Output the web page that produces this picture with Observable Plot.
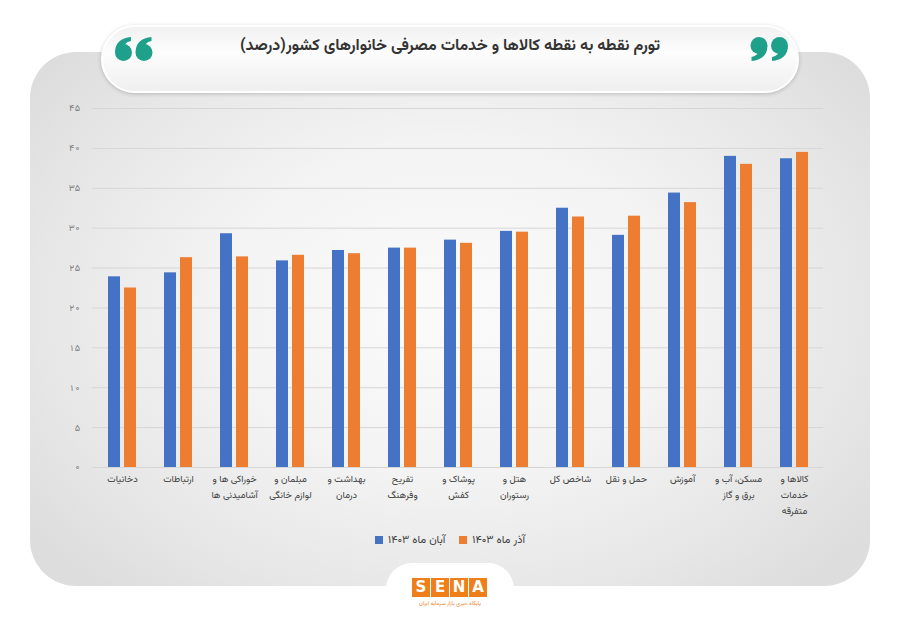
<!DOCTYPE html>
<html>
<head>
<meta charset="utf-8">
<script src="https://cdn.jsdelivr.net/npm/d3@7"></script>
<script src="https://cdn.jsdelivr.net/npm/@observablehq/plot@0.6"></script>
<style>
  html, body { margin: 0; padding: 0; background: #ffffff; }
  body { font-family: "Vazirmatn", "DejaVu Sans", sans-serif; }
  #stage { position: relative; width: 900px; height: 623px; overflow: hidden; background: #fff; }
  #panel {
    position: absolute; left: 30px; top: 52px; width: 840px; height: 534px;
    border-radius: 46px;
    background: radial-gradient(ellipse 62% 70% at 50% 48%, #fbfbfb 0%, #f3f3f3 45%, #e6e6e6 80%, #dddddd 100%);
  }
  #pill {
    position: absolute; left: 101px; top: 25px; width: 698px; height: 68px;
    border-radius: 34px; box-sizing: border-box;
    border: 2px solid #ffffff;
    background: linear-gradient(180deg, #f1f1f1 0%, #fdfdfd 40%, #efefef 100%);
    box-shadow: 0 1px 4px rgba(0,0,0,0.2);
  }
  #title {
    position: absolute; left: 150px; width: 600px; top: 34px; text-align: center;
    direction: rtl; font-size: 16px; font-weight: bold; color: #333333;
  }
  .quote { position: absolute; top: 37px; width: 38px; height: 24px; }
  #tab {
    position: absolute; left: 386px; top: 563px; width: 128px; height: 80px;
    border-radius: 26px; background: #ffffff;
  }
  #logo { position: absolute; left: 412px; top: 578px; display: flex; gap: 1px; }
  #logo span {
    display: block; width: 18px; height: 19px; background: #ef7f1a; color: #fff;
    font-family: "DejaVu Sans", sans-serif; font-weight: bold; font-size: 15px;
    line-height: 19px; text-align: center;
  }
  #logosub {
    position: absolute; left: 400px; width: 100px; top: 599px; text-align: center;
    direction: rtl; font-size: 5.5px; color: #ef7f1a;
  }
  .plot { position: absolute; left: 0; top: 90px; }
  #legend {
    position: absolute; left: 0; width: 900px; top: 531px; height: 18px;
    display: flex; justify-content: center; align-items: center; gap: 14px;
    font-size: 11px; color: #404040;
  }
  .litem { display: flex; align-items: center; gap: 5px; }
  .lsw { width: 8px; height: 8px; display: inline-block; }
  .ltx { direction: rtl; }
</style>
</head>
<body>
<div id="stage">
  <div id="panel"></div>
  <div id="pill"></div>
  <svg class="quote" style="left:115px;" viewBox="0 0 38 24">
    <g fill="#1fa08a">
      <circle cx="8.5" cy="15.5" r="8.5"/>
      <path d="M0.2,15 C0,6 6,1 16,0 L16,4 C11,5 8.5,8 9,12 Z"/>
      <circle cx="29" cy="15.5" r="8.5"/>
      <path d="M20.7,15 C20.5,6 26.5,1 36.5,0 L36.5,4 C31.5,5 29,8 29.5,12 Z"/>
    </g>
  </svg>
  <svg class="quote" style="left:750px;" viewBox="0 0 38 24">
    <g fill="#1fa08a" transform="rotate(180 19 12)">
      <circle cx="8.5" cy="15.5" r="8.5"/>
      <path d="M0.2,15 C0,6 6,1 16,0 L16,4 C11,5 8.5,8 9,12 Z"/>
      <circle cx="29" cy="15.5" r="8.5"/>
      <path d="M20.7,15 C20.5,6 26.5,1 36.5,0 L36.5,4 C31.5,5 29,8 29.5,12 Z"/>
    </g>
  </svg>
  <div id="title">تورم نقطه به نقطه کالاها و خدمات مصرفی خانوارهای کشور(درصد)</div>
  <div id="gridplot" class="plot"></div>
  <div id="barplot" class="plot"></div>
  <div id="legend"></div>
  <div id="tab"></div>
  <div id="logo"><span>S</span><span>E</span><span>N</span><span>A</span></div>
  <div id="logosub">پایگاه خبری بازار سرمایه ایران</div>
</div>
<script>
// ---- data ----
const categories = [
  "دخانیات",
  "ارتباطات",
  "خوراکی ها و\nآشامیدنی ها",
  "مبلمان و\nلوازم خانگی",
  "بهداشت و\nدرمان",
  "تفریح\nوفرهنگ",
  "پوشاک و\nکفش",
  "هتل و\nرستوران",
  "شاخص کل",
  "حمل و نقل",
  "آموزش",
  "مسکن، آب و\nبرق و گاز",
  "کالاها و\nخدمات\nمتفرقه"
];
const seriesNames = ["آبان ماه ۱۴۰۳", "آذر ماه ۱۴۰۳"];
const abanValues = [23.9, 24.4, 29.3, 25.9, 27.2, 27.5, 28.5, 29.6, 32.5, 29.1, 34.4, 39.0, 38.7];
const azarValues = [22.5, 26.3, 26.4, 26.6, 26.8, 27.5, 28.1, 29.5, 31.4, 31.5, 33.2, 38.0, 39.5];
const yTicks = [0, 5, 10, 15, 20, 25, 30, 35, 40, 45];
const seriesColors = ["#4472c4", "#ed7d31"];

// ---- helpers ----
const faDigits = "۰۱۲۳۴۵۶۷۸۹";
const toFa = d => String(d).replace(/\d/g, c => faDigits[+c]);

const rows = categories.flatMap((c, i) => [
  {category: c, series: seriesNames[0], value: abanValues[i]},
  {category: c, series: seriesNames[1], value: azarValues[i]}
]);

const W = 900, H = 445;
const common = {
  width: W, height: H,
  marginLeft: 92, marginRight: 77, marginTop: 18, marginBottom: 68,
  style: {background: "transparent", fontFamily: "'Vazirmatn','DejaVu Sans',sans-serif", overflow: "visible"}
};

// grid + y axis (unfaceted so gridlines span whole width)
const gridPlot = Plot.plot({
  ...common,
  x: {axis: null},
  y: {domain: [0, 45], axis: null},
  marks: [
    Plot.gridY(yTicks, {stroke: "#d6d6d6", strokeOpacity: 1, strokeWidth: 1}),
    Plot.axisY(yTicks, {tickSize: 0, tickPadding: 12, tickFormat: toFa, fontSize: 9, fill: "#7a7a7a"})
  ]
});
document.getElementById("gridplot").appendChild(gridPlot);

// category label lines: one axis mark per line
const lineMarks = [0, 1, 2].map(k =>
  Plot.axisFx({
    anchor: "bottom", tickSize: 0, tickPadding: 8 + k * 16,
    tickFormat: d => d.split("\n")[k] ?? "",
    fontSize: 9.5, fill: "#404040", label: null
  })
);

// bars, faceted by category
const barPlot = Plot.plot({
  ...common,
  fx: {domain: categories, paddingInner: 0.5, paddingOuter: 0.25, label: null, axis: null},
  x: {domain: seriesNames, paddingInner: 0.25, paddingOuter: 0, axis: null},
  y: {domain: [0, 45], axis: null},
  color: {domain: seriesNames, range: seriesColors},
  marks: [
    Plot.barY(rows, {fx: "category", x: "series", y: "value", fill: "series"}),
    ...lineMarks
  ]
});
document.getElementById("barplot").appendChild(barPlot);

// legend
const legend = document.getElementById("legend");
seriesNames.forEach((s, i) => {
  const item = document.createElement("div");
  item.className = "litem";
  item.innerHTML = `<span class="lsw" style="background:${seriesColors[i]}"></span><span class="ltx">${s}</span>`;
  legend.appendChild(item);
});
</script>
</body>
</html>
